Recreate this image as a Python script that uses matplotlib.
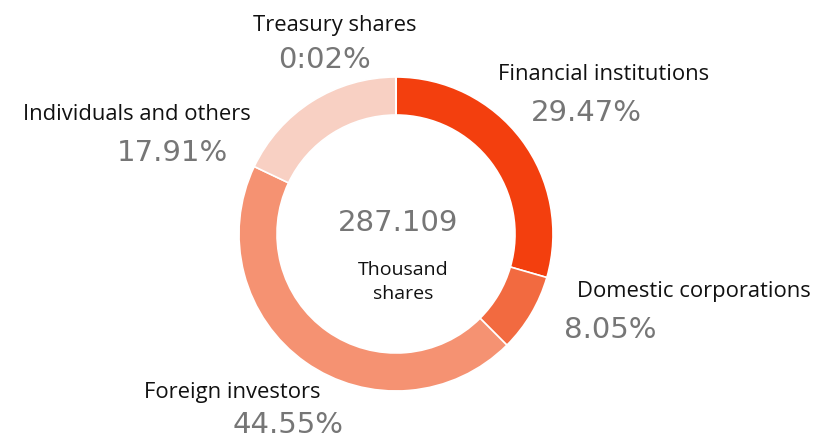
import matplotlib
matplotlib.use("Agg")
import matplotlib.pyplot as plt

categories = ["Financial institutions", "Domestic corporations", "Foreign investors",
              "Individuals and others", "Treasury shares"]
shares_pct = [29.47, 8.05, 44.55, 17.91, 0.02]
pct_labels = ["29.47%", "8.05%", "44.55%", "17.91%", "0:02%"]
total_text = "287.109"
unit_text = "Thousand\nshares"
colors = ["#F33F0E", "#F26A40", "#F59272", "#F8D0C3", "#FBE3DB"]

W, H = 818, 439
fig = plt.figure(figsize=(W / 100, H / 100), dpi=100)
ax = fig.add_axes([0, 0, 1, 1])

cx, cy = 396, H - 235
R = 157
ax.pie(shares_pct, colors=colors, startangle=90, counterclock=False,
       center=(cx, cy), radius=R, frame=True,
       wedgeprops=dict(width=38, edgecolor="white", linewidth=1.2))
ax.set_xlim(0, W)
ax.set_ylim(0, H)
ax.set_aspect("equal")
ax.axis("off")

lab_font = dict(family=["Open Sans", "DejaVu Sans"], color="#111111", fontsize=15.8)
pct_font = dict(family=["DejaVu Sans"], color="#767676", fontsize=21)

# label positions (pixel, top-left origin): (x_center, y_center)
lab_pos = [(604, 75), (694, 292), (232, 393), (137, 115), (335, 25)]
pct_pos = [(586, 113), (610, 330), (288, 425), (172, 153), (324, 60)]

for name, (x, y) in zip(categories, lab_pos):
    ax.text(x, H - y, name, ha="center", va="center", **lab_font)
for p, (x, y) in zip(pct_labels, pct_pos):
    ax.text(x, H - y, p, ha="center", va="center", **pct_font)

ax.text(398, H - 223, total_text, ha="center", va="center", **pct_font)
ax.text(403, H - 282, unit_text, ha="center", va="center", linespacing=1.45,
        family=["Open Sans", "DejaVu Sans"], color="#111111", fontsize=14)

fig.savefig("out.png", dpi=100, facecolor="white")
